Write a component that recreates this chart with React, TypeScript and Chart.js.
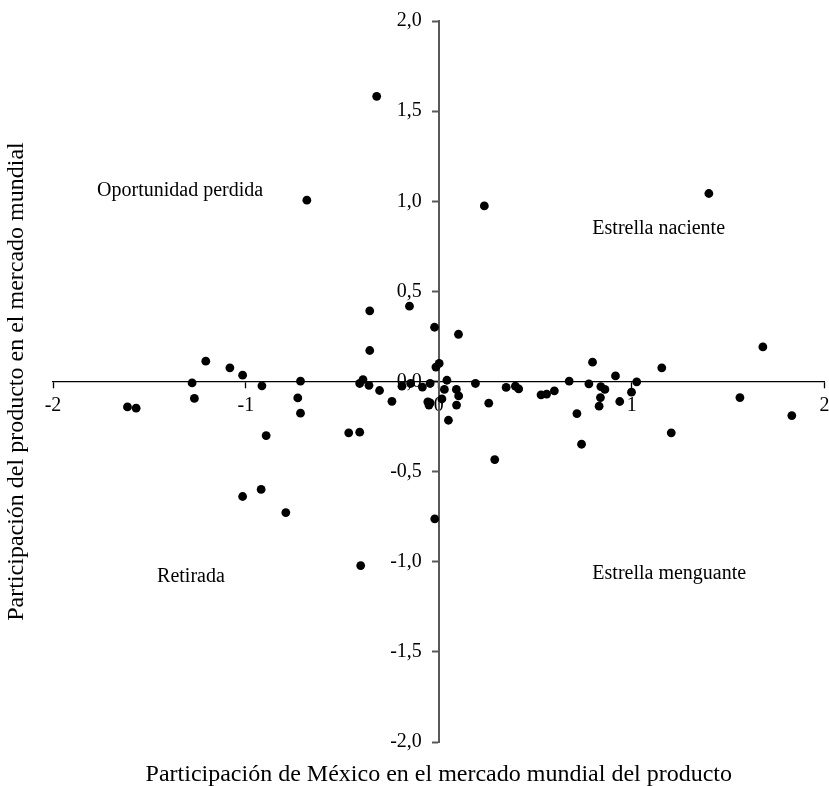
import React, { useEffect, useRef } from "react";
import { Chart, registerables } from "chart.js";

Chart.register(...registerables);

// Participación de México en el mercado mundial del producto (x)
const xValues = [
  -1.614, -1.569, -1.279, -1.267, -1.208, -1.083, -1.017, -0.917, -0.895,
  -0.717, -0.731, -0.717, -1.017, -0.921, -0.793, -0.684, -0.322, -0.467,
  -0.41, -0.405, -0.41, -0.393, -0.362, -0.358, -0.358, -0.307, -0.243,
  -0.191, -0.152, -0.146, -0.085, -0.045, -0.057, -0.051, -0.045, -0.022,
  -0.015, 0.002, -0.021, 0.016, 0.029, 0.042, 0.05, 0.091, 0.103, 0.092,
  0.102, 0.19, 0.236, 0.259, 0.29, 0.349, 0.397, 0.414, 0.53, 0.559, 0.599,
  0.676, 0.716, 0.74, 0.778, 0.797, 0.84, 0.861, 0.838, 0.831, 0.916, 0.938,
  0.999, 1.026, 1.156, 1.205, 1.4, 1.561, 1.68, 1.83,
];
// Participación del producto en el mercado mundial (y)
const yValues = [
  -0.141, -0.148, -0.008, -0.094, 0.113, 0.076, 0.035, -0.024, -0.3, 0.002,
  -0.091, -0.176, -0.638, -0.599, -0.727, 1.006, 1.582, -0.285, -0.281,
  -1.021, -0.011, 0.01, -0.021, 0.392, 0.172, -0.05, -0.11, -0.026, 0.418,
  -0.011, -0.031, -0.011, -0.113, -0.131, -0.119, 0.301, 0.08, 0.1, -0.762,
  -0.097, -0.044, 0.007, -0.215, -0.044, -0.08, -0.131, 0.262, -0.011, 0.974,
  -0.12, -0.433, -0.033, -0.026, -0.041, -0.074, -0.07, -0.052, 0.002,
  -0.178, -0.348, -0.013, 0.107, -0.028, -0.044, -0.089, -0.137, 0.031,
  -0.111, -0.059, -0.002, 0.076, -0.285, 1.043, -0.089, 0.192, -0.189,
];

const xTicks = [-2, -1, 0, 1, 2];
const yTicks = [2, 1.5, 1, 0.5, 0, -0.5, -1, -1.5, -2];

const xTitle = "Participación de México en el mercado mundial del producto";
const yTitle = "Participación del producto en el mercado mundial";

const quadrantNames = [
  "Oportunidad perdida",
  "Estrella naciente",
  "Retirada",
  "Estrella menguante",
];
// anchor positions in data units, and alignment
const quadrantX = [-1.341, 0.796, -1.285, 0.796];
const quadrantY = [1.061, 0.845, -1.085, -1.069];
const quadrantAlign: CanvasTextAlign[] = ["center", "left", "center", "left"];

const FONT = "'Liberation Serif', 'Times New Roman', serif";

const fmtY = (v: number) => v.toFixed(1).replace(".", ",");

const textPlugin = {
  id: "textPlugin",
  afterDraw(chart: any) {
    const ctx: CanvasRenderingContext2D = chart.ctx;
    const xs = chart.scales.x;
    const ys = chart.scales.y;
    const ca = chart.chartArea;
    ctx.save();
    ctx.fillStyle = "#000";
    // y tick labels
    ctx.font = `20px ${FONT}`;
    ctx.textAlign = "right";
    ctx.textBaseline = "middle";
    const axisX = xs.getPixelForValue(0);
    yTicks.forEach((v) => {
      ctx.fillText(fmtY(v), axisX - 17, ys.getPixelForValue(v));
    });
    // quadrant labels
    ctx.font = `20px ${FONT}`;
    quadrantNames.forEach((t, i) => {
      ctx.textAlign = quadrantAlign[i];
      ctx.fillText(t, xs.getPixelForValue(quadrantX[i]), ys.getPixelForValue(quadrantY[i]));
    });
    // axis titles
    ctx.font = `24px ${FONT}`;
    ctx.textAlign = "center";
    ctx.fillText(xTitle, (ca.left + ca.right) / 2, 775);
    ctx.translate(17, (ca.top + ca.bottom) / 2);
    ctx.rotate(-Math.PI / 2);
    ctx.fillText(yTitle, 0, 0);
    ctx.restore();
  },
};

export default function App() {
  const ref = useRef<HTMLCanvasElement | null>(null);
  useEffect(() => {
    document.body.style.margin = "0";
    if (!ref.current) return;
    const chart = new Chart(ref.current, {
      type: "scatter",
      data: {
        datasets: [
          {
            data: xValues.map((x, i) => ({ x, y: yValues[i] })),
            backgroundColor: "#000",
            borderColor: "#000",
            borderWidth: 0,
            pointRadius: 4.4,
            pointHoverRadius: 4.4,
          },
        ],
      },
      options: {
        animation: false,
        responsive: false,
        devicePixelRatio: 1,
        layout: { padding: { left: 53, right: 3, top: 21, bottom: 44 } },
        plugins: { legend: { display: false }, tooltip: { enabled: false } },
        events: [],
        scales: {
          x: {
            type: "linear",
            min: -2,
            max: 2,
            position: { y: 0 } as any,
            afterBuildTicks: (s: any) => {
              s.ticks = xTicks.map((v) => ({ value: v }));
            },
            afterFit: (s: any) => {
              s.paddingLeft = 0;
              s.paddingRight = 0;
              s.paddingTop = 0;
              s.paddingBottom = 0;
            },
            ticks: {
              autoSkip: false,
              maxRotation: 0,
              padding: 6,
              color: "#000",
              font: { family: FONT, size: 20 },
              callback: (v: any) => String(v),
            },
            grid: {
              drawOnChartArea: false,
              drawTicks: true,
              tickLength: 6,
              tickColor: "#000",
              tickWidth: 1.3,
            },
            border: { color: "#000", width: 1.3 },
          },
          y: {
            type: "linear",
            min: -2,
            max: 2,
            position: { x: 0 } as any,
            afterBuildTicks: (s: any) => {
              s.ticks = yTicks.map((v) => ({ value: v }));
            },
            afterFit: (s: any) => {
              s.paddingLeft = 0;
              s.paddingRight = 0;
              s.paddingTop = 0;
              s.paddingBottom = 0;
            },
            ticks: { display: false },
            grid: {
              drawOnChartArea: false,
              drawTicks: true,
              tickLength: 6,
              tickColor: "#595959",
              tickWidth: 2,
            },
            border: { color: "#595959", width: 2 },
          },
        },
      },
      plugins: [textPlugin],
    });
    return () => chart.destroy();
  }, []);
  return (
    <div style={{ position: "absolute", left: 0, top: 0, width: 829, height: 786 }}>
      <canvas ref={ref} width={829} height={786} style={{ display: "block" }} />
    </div>
  );
}
